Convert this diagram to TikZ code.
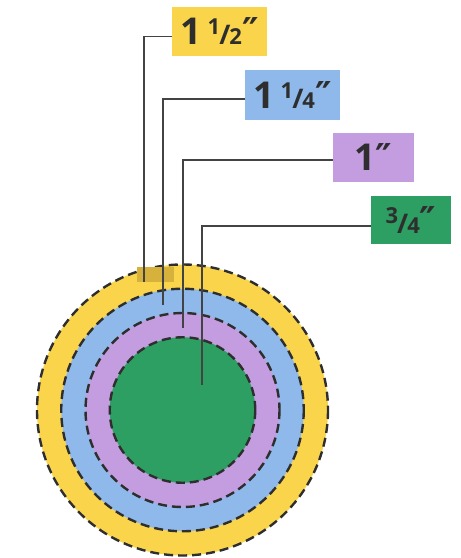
\documentclass[tikz,border=0pt]{standalone}
\usepackage{fontspec}
\setmainfont{Open Sans}
\newfontfamily\primefont{DejaVu Sans}
\usetikzlibrary{positioning}

\definecolor{ringyellow}{HTML}{FAD54B}
\definecolor{ringblue}{HTML}{8FB9EA}
\definecolor{ringpurple}{HTML}{C49CE0}
\definecolor{ringgreen}{HTML}{2E9F63}
\definecolor{patchgold}{HTML}{D6B23C}
\definecolor{inkgray}{HTML}{2E2E2E}

\newcommand{\inchmark}{{\primefont\bfseries ″}}
\newcommand{\sizefrac}[2]{\raisebox{10pt}{\fontsize{22}{22}\selectfont #1}\kern-1pt{\fontsize{27}{27}\selectfont/}\kern-1pt{\fontsize{22}{22}\selectfont #2}}

\tikzset{
  sizebox/.style={inner sep=0pt, text=inkgray, font=\fontsize{37}{38}\selectfont\bfseries},
  ring/.style={draw=inkgray, line width=2.4pt, dash pattern=on 9pt off 5pt},
  leader/.style={draw=inkgray!90, line width=1.3pt}
}

\begin{document}
\begin{tikzpicture}[x=1pt, y=-1pt]
\useasboundingbox (0,0) rectangle (461,558);

% rings, outside in
\coordinate (c) at (182.5, 410);
\fill[ringyellow] (c) circle (145.5);
\draw[ring] (c) circle (145.5);
\fill[ringblue] (c) circle (121.25);
\draw[ring] (c) circle (121.25);
\fill[ringpurple] (c) circle (97);
\draw[ring] (c) circle (97);
\fill[ringgreen] (c) circle (72.75);
\draw[ring] (c) circle (72.75);
\fill[patchgold] (137,267) rectangle (174,282);

% size labels
\node[sizebox, fill=ringyellow, minimum width=95pt, minimum height=49pt] (half) at (219.5, 31.5) {1\,\sizefrac{1}{2}\inchmark};
\node[sizebox, fill=ringblue,   minimum width=95pt, minimum height=50pt] (quarter) at (292.5, 95) {1\,\sizefrac{1}{4}\inchmark};
\node[sizebox, fill=ringpurple, minimum width=81pt, minimum height=49pt] (one) at (373.5, 157.5) {1\inchmark};
\node[sizebox, fill=ringgreen,  minimum width=80pt, minimum height=48pt] (threeq) at (411, 220) {\sizefrac{3}{4}\inchmark};

% leader ends
\coordinate (halfend) at (144, 282);
\coordinate (quarterend) at (163, 305);
\coordinate (oneend) at (183, 328);
\coordinate (threeqend) at (202, 385);

\draw[leader] ([yshift=-5pt]half.west) -| (halfend);
\draw[leader] ([yshift=-4pt]quarter.west) -| (quarterend);
\draw[leader] ([yshift=-2.5pt]one.west) -| (oneend);
\draw[leader] ([yshift=-6pt]threeq.west) -| (threeqend);
\end{tikzpicture}
\end{document}
